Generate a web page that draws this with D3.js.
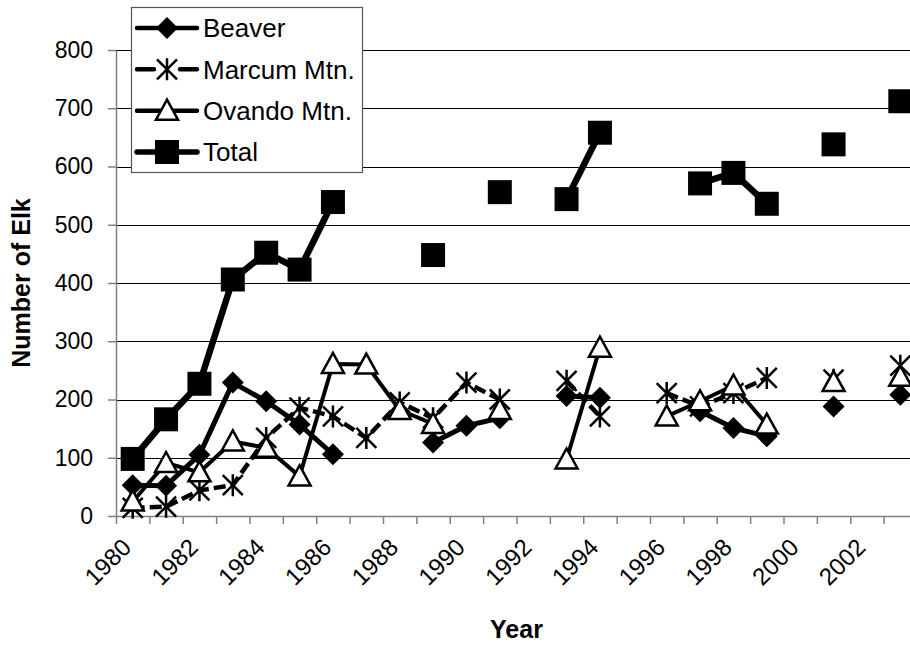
<!DOCTYPE html>
<html>
<head>
<meta charset="utf-8">
<script src="https://cdn.jsdelivr.net/npm/d3@7"></script>
<style>
  body { margin: 0; background: #fff; }
  svg { display: block; font-family: "Liberation Sans", Arial, sans-serif; }
</style>
</head>
<body>
<svg id="chart"></svg>
<script>
// elk counts by year, null = no survey
var years = d3.range(1980, 2004);
var beaver = [53, 52, 105, 229, 197, 157, 106, null, null, 126, 155, 168, null, 206, 203, null, null, 180, 151, 137, null, 188, null, 208];
var marcum = [14, 16, 44, 53, 134, 186, 171, 134, 195, 168, 229, 200, null, 232, 171, null, 211, 188, 211, 237, null, 234, null, 258];
var ovando = [25, 91, 75, 128, 117, 68, 261, 260, 182, 158, null, 182, null, 97, 289, null, 171, 197, 224, 157, null, 230, null, 239];
var total = [98, 166, 227, 406, 452, 423, 539, null, null, 448, null, 556, null, 544, 658, null, null, 571, 589, 536, null, 638, null, 712];
var yTicks = [0, 100, 200, 300, 400, 500, 600, 700, 800];
var xLabels = d3.range(1980, 2004, 2);

var series = [
  { name: "Beaver", values: beaver, marker: "diamond", width: 5, dash: null },
  { name: "Marcum Mtn.", values: marcum, marker: "star", width: 4.5, dash: "12,5" },
  { name: "Ovando Mtn.", values: ovando, marker: "triangle", width: 4, dash: null },
  { name: "Total", values: total, marker: "square", width: 6.5, dash: null }
];

var svgWidth = 910, svgHeight = 649;
var plotLeft = 116, plotRight = 917, plotTop = 50, plotBottom = 516;

var svg = d3.select("#chart")
  .attr("width", svgWidth)
  .attr("height", svgHeight);

var x = d3.scaleBand().domain(years).range([plotLeft, plotRight]).padding(0);
var xEdge = d3.scaleLinear().domain([1980, 2004]).range([plotLeft, plotRight]);
var y = d3.scaleLinear().domain([0, 800]).range([plotBottom, plotTop]);

// gridlines
svg.append("g")
  .selectAll("line")
  .data(yTicks.filter(function(d) { return d > 0; }))
  .enter().append("line")
  .attr("x1", plotLeft).attr("x2", svgWidth)
  .attr("y1", function(d) { return Math.round(y(d)) + 0.5; })
  .attr("y2", function(d) { return Math.round(y(d)) + 0.5; })
  .attr("stroke", "#000")
  .attr("stroke-width", 1);

// y axis
var yAxis = svg.append("g")
  .attr("transform", "translate(" + plotLeft + ",0)")
  .call(d3.axisLeft(y).tickValues(yTicks).tickSize(8).tickPadding(15).tickSizeOuter(0));
yAxis.select(".domain").attr("stroke", "#808080").attr("stroke-width", 1.5);
yAxis.selectAll(".tick line").attr("stroke", "#808080").attr("stroke-width", 1.5);
yAxis.selectAll(".tick text")
  .attr("font-size", 23)
  .attr("font-family", "Liberation Sans, Arial, sans-serif")
  .attr("fill", "#000");

// x axis, ticks between categories
var xAxis = svg.append("g")
  .attr("transform", "translate(0," + plotBottom + ")")
  .call(d3.axisBottom(xEdge).tickValues(d3.range(1980, 2005)).tickSize(8).tickFormat("").tickSizeOuter(0));
xAxis.select(".domain").attr("stroke", "#808080").attr("stroke-width", 1.5);
xAxis.selectAll(".tick line").attr("stroke", "#808080").attr("stroke-width", 1.5);

svg.append("g")
  .selectAll("text")
  .data(xLabels)
  .enter().append("text")
  .attr("transform", function(d) {
    return "translate(" + (x(d) + x.bandwidth() / 2 - 12) + "," + (plotBottom + 21) + ") rotate(-45)";
  })
  .attr("text-anchor", "end")
  .attr("dy", "0.7em")
  .attr("font-size", 24)
  .text(function(d) { return d; });

// axis titles
svg.append("text")
  .attr("x", (plotLeft + plotRight) / 2)
  .attr("y", 638)
  .attr("text-anchor", "middle")
  .attr("font-size", 25)
  .attr("font-weight", "bold")
  .text("Year");

svg.append("text")
  .attr("transform", "translate(30," + (plotTop + plotBottom) / 2 + ") rotate(-90)")
  .attr("text-anchor", "middle")
  .attr("font-size", 25)
  .attr("font-weight", "bold")
  .text("Number of Elk");

function markerPath(type) {
  if (type == "diamond") return "M0,-11L11,0L0,11L-11,0Z";
  if (type == "triangle") return "M0,-11L11,9L-11,9Z";
  if (type == "square") return "M-12,-12H12V12H-12Z";
  return "M0,-11V11M-10,-10L10,10M-10,10L10,-10";
}

function drawMarker(g, type) {
  g.append("path")
    .attr("d", markerPath(type))
    .attr("fill", type == "triangle" ? "#fff" : (type == "star" ? "none" : "#000"))
    .attr("stroke", "#000")
    .attr("stroke-width", type == "square" || type == "diamond" ? 0 : 2.5);
}

var line = d3.line()
  .defined(function(d) { return d.value != null; })
  .x(function(d) { return x(d.year) + x.bandwidth() / 2; })
  .y(function(d) { return y(d.value); });

series.forEach(function(s) {
  var data = years.map(function(yr, i) { return { year: yr, value: s.values[i] }; });
  var g = svg.append("g");
  g.append("path")
    .datum(data)
    .attr("fill", "none")
    .attr("stroke", "#000")
    .attr("stroke-width", s.width)
    .attr("stroke-dasharray", s.dash)
    .attr("stroke-linejoin", "round")
    .attr("d", line);
  g.selectAll(".pt")
    .data(data.filter(function(d) { return d.value != null; }))
    .enter().append("g")
    .attr("class", "pt")
    .attr("transform", function(d) {
      return "translate(" + (x(d.year) + x.bandwidth() / 2) + "," + y(d.value) + ")";
    })
    .each(function() { drawMarker(d3.select(this), s.marker); });
});

// legend
var legend = svg.append("g");
legend.append("rect")
  .attr("x", 131.5).attr("y", 7.5)
  .attr("width", 231).attr("height", 165)
  .attr("fill", "#fff")
  .attr("stroke", "#555")
  .attr("stroke-width", 1.2);

var legendY = d3.scalePoint().domain(series.map(function(s) { return s.name; })).range([28, 152]);

series.forEach(function(s) {
  var row = legend.append("g").attr("transform", "translate(0," + legendY(s.name) + ")");
  row.append("line")
    .attr("x1", 137).attr("x2", 197)
    .attr("stroke", "#000")
    .attr("stroke-width", s.name == "Total" ? 5.5 : 4.5)
    .attr("stroke-linecap", "round")
    .attr("stroke-dasharray", s.dash ? "17,26" : null);
  var m = row.append("g").attr("transform", "translate(167,0)");
  drawMarker(m, s.marker);
  row.append("text")
    .attr("x", 203)
    .attr("dy", "0.36em")
    .attr("font-size", 26)
    .text(s.name);
});
</script>
</body>
</html>
